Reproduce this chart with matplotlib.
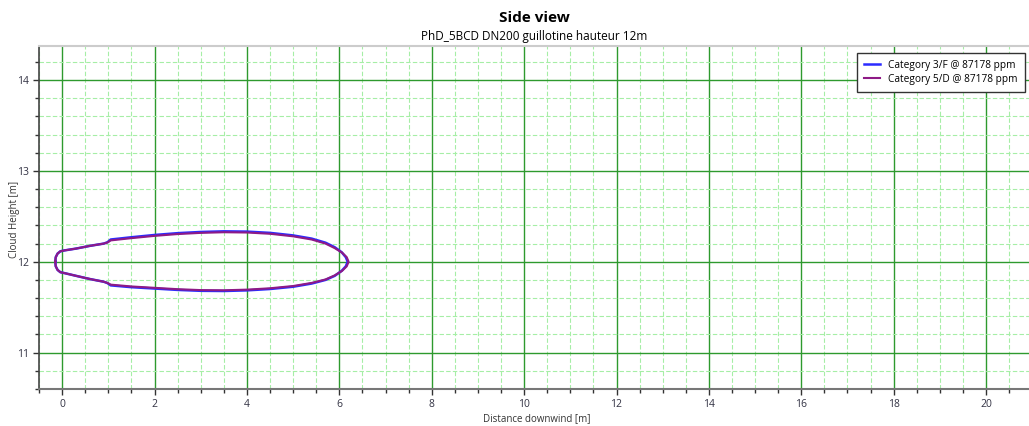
import matplotlib.pyplot as plt
from matplotlib.ticker import MultipleLocator

# Cloud outline (side view), traced clockwise from the upwind tip
cat3f_x = [-0.15, -0.14, -0.10, -0.04, 0.05, 0.3, 0.6, 0.9, 0.98, 1.05, 1.5, 2.0, 2.5, 3.0, 3.5, 4.0,
           4.5, 5.0, 5.4, 5.7, 5.9, 6.05, 6.14, 6.18,
           6.14, 6.05, 5.9, 5.7, 5.4, 5.0, 4.5, 4.0, 3.5, 3.0, 2.5, 2.0, 1.5, 1.05, 0.98, 0.9,
           0.6, 0.3, 0.05, -0.04, -0.10, -0.14, -0.15]
cat3f_y = [12.0, 12.05, 12.09, 12.115, 12.125, 12.145, 12.175, 12.2, 12.215, 12.245, 12.27, 12.295,
           12.315, 12.328, 12.335, 12.332, 12.318, 12.29, 12.255, 12.21, 12.16, 12.105, 12.05, 12.0,
           11.95, 11.9, 11.845, 11.8, 11.76, 11.725, 11.70, 11.685, 11.678, 11.68, 11.69, 11.705,
           11.72, 11.74, 11.765, 11.78, 11.81, 11.845, 11.875, 11.885, 11.91, 11.95, 12.0]

cat5d_x = [-0.15, -0.14, -0.10, -0.04, 0.05, 0.3, 0.6, 0.9, 0.98, 1.05, 1.5, 2.0, 2.5, 3.0, 3.5, 4.0,
           4.5, 5.0, 5.4, 5.7, 5.9, 6.06, 6.16, 6.2,
           6.16, 6.06, 5.9, 5.7, 5.4, 5.0, 4.5, 4.0, 3.5, 3.0, 2.5, 2.0, 1.5, 1.05, 0.98, 0.9,
           0.6, 0.3, 0.05, -0.04, -0.10, -0.14, -0.15]
cat5d_y = [12.0, 12.05, 12.09, 12.115, 12.125, 12.145, 12.175, 12.2, 12.212, 12.235, 12.26, 12.285,
           12.305, 12.318, 12.325, 12.322, 12.308, 12.28, 12.245, 12.2, 12.15, 12.1, 12.05, 12.0,
           11.95, 11.9, 11.85, 11.805, 11.767, 11.733, 11.708, 11.693, 11.686, 11.688, 11.698, 11.713,
           11.728, 11.748, 11.767, 11.78, 11.81, 11.845, 11.875, 11.885, 11.91, 11.95, 12.0]

plt.rcParams['font.family'] = ['Open Sans', 'DejaVu Sans']

fig = plt.figure(figsize=(10.29, 4.26), dpi=100)
ax = fig.add_axes([0.038, 0.087, 0.962, 0.805])

ax.plot(cat3f_x, cat3f_y, color='#2b2bff', lw=1.8, solid_joinstyle='round',
        label='Category 3/F @ 87178 ppm')
ax.plot(cat5d_x, cat5d_y, color='#8e1a86', lw=1.5, solid_joinstyle='round',
        label='Category 5/D @ 87178 ppm')

ax.set_xlim(-0.5, 20.93)
ax.set_ylim(10.6, 14.375)
ax.xaxis.set_major_locator(MultipleLocator(2))
ax.xaxis.set_minor_locator(MultipleLocator(0.5))
ax.yaxis.set_major_locator(MultipleLocator(1))
ax.yaxis.set_minor_locator(MultipleLocator(0.2))

ax.grid(which='major', color='#2e9a2e', lw=1.0, ls='-')
ax.grid(which='minor', color='#a6eea6', lw=0.8, ls=(0, (4, 2)))
ax.set_axisbelow(True)

ax.tick_params(which='major', length=4, width=1, labelsize=7.5, labelcolor='#333344', color='#333333')
ax.tick_params(which='minor', length=3, width=1, color='#333333')

ax.spines['left'].set_color('#444444')
ax.spines['left'].set_linewidth(1.2)
ax.spines['bottom'].set_color('#777777')
ax.spines['bottom'].set_linewidth(1.5)
ax.spines['top'].set_color('#cccccc')
ax.spines['top'].set_linewidth(1.5)
ax.spines['right'].set_visible(False)

fig.text(0.522, 0.018, 'Distance downwind [m]', ha='center', va='center', fontsize=7, color='#333333')
fig.text(0.0145, 0.486, 'Cloud Height [m]', ha='center', va='center', rotation=90, fontsize=7, color='#333333')

fig.text(0.519, 0.957, 'Side view', ha='center', va='center', fontsize=11, fontweight='bold')
fig.text(0.519, 0.915, 'PhD_5BCD DN200 guillotine hauteur 12m', ha='center', va='center', fontsize=8.5)

leg = ax.legend(loc='upper right', bbox_to_anchor=(0.996, 0.98), borderaxespad=0, fontsize=7.3,
                fancybox=False, framealpha=1, edgecolor='#333333', handlelength=1.6,
                borderpad=0.7, labelspacing=0.3)
leg.get_frame().set_linewidth(1.0)

fig.savefig('out.png', dpi=100)
